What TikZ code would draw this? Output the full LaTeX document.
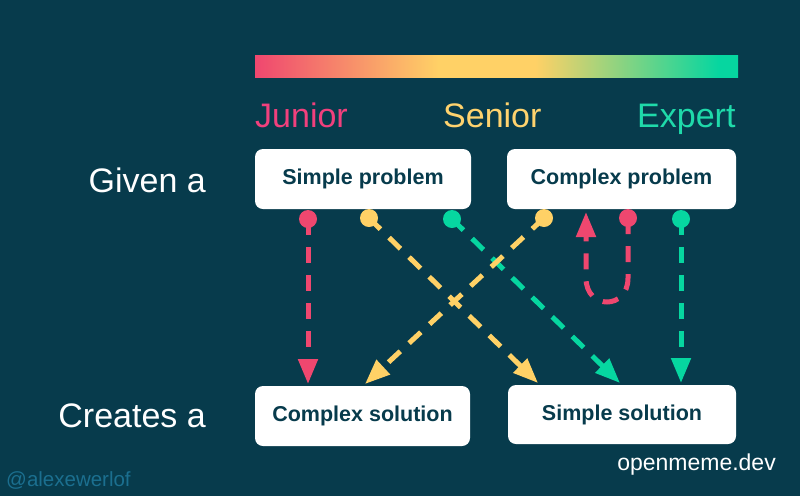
\documentclass[tikz,border=0pt]{standalone}
\usepackage{fontspec}
\setmainfont{Liberation Sans}
\usetikzlibrary{arrows.meta}
\definecolor{bgc}{HTML}{073B4C}
\definecolor{pinkc}{HTML}{EF476F}
\definecolor{yellowc}{HTML}{FFD166}
\definecolor{greenc}{HTML}{06D6A0}
\definecolor{handlec}{HTML}{1B6F8F}
\pgfdeclarehorizontalshading{levelbar}{100bp}{color(0bp)=(pinkc); color(25bp)=(pinkc); color(44bp)=(yellowc); color(54bp)=(yellowc); color(73bp)=(greenc); color(100bp)=(greenc)}
\tikzset{
  box/.style={fill=white, rounded corners=8pt, inner sep=0pt, font=\fontsize{21.5}{25}\selectfont\bfseries, text=bgc},
  side/.style={font=\fontsize{34}{40}\selectfont, text=white, anchor=base east, inner sep=0pt},
  level/.style={font=\fontsize{34}{40}\selectfont, anchor=base west, inner sep=0pt},
  dot/.style={circle, inner sep=0pt, minimum size=18pt},
  flow/.style={line width=5pt, dash pattern=on 16pt off 12pt, -{Triangle[length=25pt,width=19pt]}},
}
\begin{document}
\begin{tikzpicture}[x=1pt,y=-1pt]
\fill[bgc] (0,0) rectangle (800,496);
\useasboundingbox (0,0) rectangle (800,496);
% gradient bar
\shade[shading=levelbar] (255,55) rectangle (738,77);
\node[level, text=pinkc!90!magenta] (jr) at (255,127) {Junior};
\node[level, text=yellowc!95!white] (sr) at (443,127) {Senior};
\node[level, text=greenc!90!white] (ex) at (637,127) {Expert};
% side labels
\node[side] (given) at (206,192) {Given a};
\node[side] (creates) at (206,427) {Creates a};
% boxes
\node[box, minimum width=216pt, minimum height=60pt] (sp) at (363,179) {Simple problem};
\node[box, minimum width=229pt, minimum height=60pt] (cp) at (621.5,179) {Complex problem};
\node[box, minimum width=215pt, minimum height=60pt] (cs) at (362.5,416) {Complex solution};
\node[box, minimum width=228pt, minimum height=59pt] (ss) at (622,414.5) {Simple solution};
% tip coordinates
\coordinate (t1) at (308,384);
\coordinate (t2) at (538,383);
\coordinate (t3) at (620,383);
\coordinate (t4) at (365,384);
\coordinate (t5) at (586,212);
\coordinate (t6) at (681,383);
% connectors
\draw[flow, pinkc] (308,219) -- (t1);
\draw[flow, yellowc] (369,218) -- (t2);
\draw[flow, greenc] (452,219) -- (t3);
\draw[flow, yellowc] (544,218) -- (t4);
\draw[flow, pinkc] (628,218) -- (628,278) .. controls (628,310) and (586,310) .. (586,278) -- (t5);
\draw[flow, greenc] (681,219) -- (t6);
% dots
\node[dot, fill=pinkc] (d1) at (308,219) {};
\node[dot, fill=yellowc] (d2) at (369,218) {};
\node[dot, fill=greenc] (d3) at (452,219) {};
\node[dot, fill=yellowc] (d4) at (544,218) {};
\node[dot, fill=pinkc] (d5) at (628,218) {};
\node[dot, fill=greenc] (d6) at (681,219) {};
% footer
\node[font=\fontsize{23}{27}\selectfont, text=white, anchor=base east, inner sep=0pt] (site) at (776,470) {openmeme.dev};
\node[font=\fontsize{20.5}{24}\selectfont, text=handlec, anchor=base west, inner sep=0pt] (handle) at (6,486) {@alexewerlof};
\end{tikzpicture}
\end{document}
